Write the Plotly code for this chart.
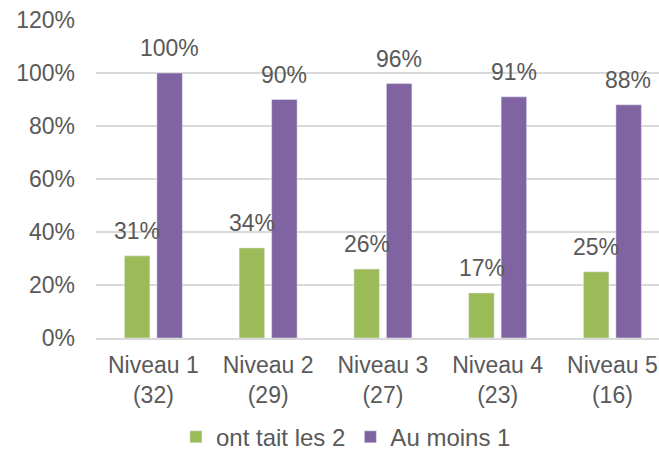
"""Grouped bar chart: Niveau 1-5."""

from plotly import graph_objects as go

categories = ["Niveau 1<br>(32)", "Niveau 2<br>(29)", "Niveau 3<br>(27)", "Niveau 4<br>(23)", "Niveau 5<br>(16)"]
ont_fait_les_2 = [31, 34, 26, 17, 25]
au_moins_1 = [100, 90, 96, 91, 88]
y_ticks = [0, 20, 40, 60, 80, 100, 120]

GREY = "#595959"
FONT = "Liberation Sans, Arial, sans-serif"
BAR_SHIFT = 16  # half a bar slot, in px

fig = go.Figure()
fig.add_trace(go.Bar(x=categories, y=ont_fait_les_2, name="ont tait les 2", marker_color="#9BBB59"))
fig.add_trace(go.Bar(x=categories, y=au_moins_1, name="Au moins 1", marker_color="#8064A2"))

# value labels above bars
for values, shift in [(ont_fait_les_2, -BAR_SHIFT), (au_moins_1, BAR_SHIFT)]:
    for cat, v in zip(categories, values):
        fig.add_annotation(
            x=cat, y=v, text=f"{v}%", showarrow=False,
            xshift=shift, yshift=10, yanchor="bottom",
            font=dict(size=23, color=GREY, family=FONT),
        )

fig.update_layout(
    width=659, height=452,
    margin={"l": 96, "r": 0, "t": 20, "b": 114, "autoexpand": False},
    paper_bgcolor="white", plot_bgcolor="white",
    font=dict(family=FONT, size=23, color=GREY),
    barmode="group", bargap=0.434, bargroupgap=0.215,
    legend=dict(orientation="h", x=0.142, xanchor="left", y=-0.312, yanchor="middle",
                font=dict(size=24, color=GREY), itemwidth=30, traceorder="normal"),
    showlegend=True,
)
fig.update_yaxes(
    range=[0, 120], tickvals=y_ticks, ticktext=[f"{v}%" for v in y_ticks],
    showgrid=True, gridcolor="#D9D9D9", gridwidth=1.5, zeroline=False, automargin=False,
    showline=False, ticks="", ticklabelstandoff=20, ticklabeloverflow="allow",
    tickfont=dict(size=23, color=GREY),
)
fig.update_xaxes(
    range=[-0.5, 4.406],  # last category runs past the right edge, as in the source
    showline=True, linecolor="#D9D9D9", linewidth=1.5, ticks="", automargin=False,
    ticklabelstandoff=6, ticklabeloverflow="allow", tickfont=dict(size=23, color=GREY),
)

# drop the default 8px body margin so the figure fills the window exactly
fig.write_html(
    "out.html",
    config={"displayModeBar": False},
    post_script="document.body.style.margin='0';document.body.style.overflow='hidden';",
)
